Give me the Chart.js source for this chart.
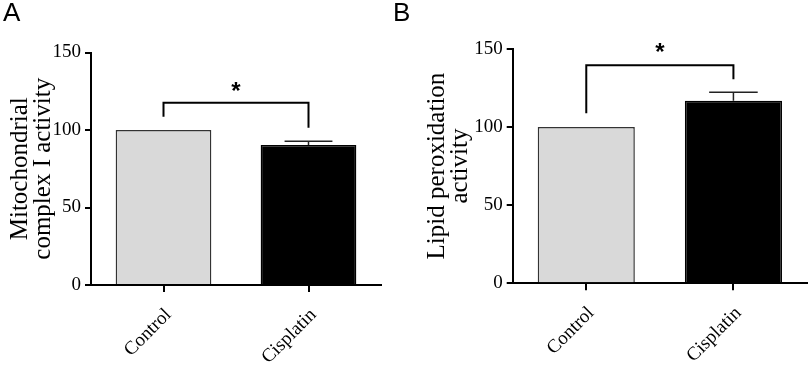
<!DOCTYPE html>
<html><head><meta charset="utf-8">
<script src="https://cdn.jsdelivr.net/npm/chart.js@4/dist/chart.umd.min.js"></script>
<style>
html,body{margin:0;padding:0;background:#fff;width:809px;height:367px;overflow:hidden;}
.box{position:absolute;top:0;height:367px;}
#wa{left:0;width:400px;}
#wb{left:390px;width:419px;}
canvas{display:block;}
</style></head><body>
<div class="box" id="wa"><canvas id="ca" width="400" height="367"></canvas></div>
<div class="box" id="wb"><canvas id="cb" width="419" height="367"></canvas></div>
<script>
const categories = ['Control', 'Cisplatin'];
const yTicks = [0, 50, 100, 150];
const complexIValues = [100, 90.3];
const complexIErrors = [0, 2.4];
const lipidValues = [100, 116.8];
const lipidErrors = [0, 5.4];
// significance bracket: [bar level, left leg end, right leg end, star level]
const complexIBracket = [117.6, 108.6, 101.5, 127.4];
const lipidBracket = [139.5, 108.8, 130.5, 150.5];
const panelLetters = ['A', 'B'];
const complexITitle = ['Mitochondrial', 'complex I activity'];
const lipidTitle = ['Lipid peroxidation', 'activity'];

const serif = "'Liberation Serif', 'Times New Roman', serif";

const annot = {
  id: 'annot',
  afterDatasetsDraw(chart, args, o) {
    const ctx = chart.ctx, x = chart.scales.x, y = chart.scales.y;
    const meta = chart.getDatasetMeta(0);
    ctx.save();
    ctx.strokeStyle = '#222';
    ctx.lineWidth = 1.5;
    o.values.forEach((v, i) => {
      const e = o.errors[i];
      if (!e) return;
      const bar = meta.data[i];
      const cx = bar.x, hw = bar.width / 4;
      const y0 = y.getPixelForValue(v), y1 = y.getPixelForValue(v + e);
      ctx.beginPath();
      ctx.moveTo(cx, y0); ctx.lineTo(cx, y1);
      ctx.moveTo(cx - hw, y1); ctx.lineTo(cx + hw, y1);
      ctx.stroke();
    });
    const b = o.bracket;
    const xa = x.getPixelForValue(0), xb = x.getPixelForValue(1);
    const yl = y.getPixelForValue(b[0]);
    ctx.strokeStyle = '#000';
    ctx.lineWidth = 2;
    ctx.beginPath();
    ctx.moveTo(xa, y.getPixelForValue(b[1]));
    ctx.lineTo(xa, yl);
    ctx.lineTo(xb, yl);
    ctx.lineTo(xb, y.getPixelForValue(b[2]));
    ctx.stroke();
    ctx.fillStyle = '#000';
    ctx.font = "bold 24px 'Liberation Sans', Arial, sans-serif";
    ctx.textAlign = 'center';
    ctx.textBaseline = 'middle';
    ctx.fillText('*', (xa + xb) / 2, y.getPixelForValue(b[3]) + 5);
    ctx.restore();
  }
};

function makeChart(id, cfg) {
  new Chart(document.getElementById(id), {
    type: 'bar',
    data: {
      labels: categories,
      datasets: [{
        data: cfg.values,
        backgroundColor: ['#d9d9d9', '#000000'],
        borderColor: ['#333333', '#000000'],
        borderWidth: 1.5,
        barPercentage: 0.66,
        categoryPercentage: 1.0
      }]
    },
    options: {
      responsive: false,
      animation: false,
      events: [],
      layout: { padding: cfg.padding },
      plugins: {
        legend: { display: false },
        tooltip: { enabled: false },
        title: {
          display: true,
          text: cfg.letter,
          align: 'start',
          color: '#000',
          font: { family: "'Liberation Sans', Arial, sans-serif", size: 26, weight: 'normal', lineHeight: 1 },
          padding: { top: 1, bottom: cfg.titleBottom }
        },
        annot: { values: cfg.values, errors: cfg.errors, bracket: cfg.bracket }
      },
      scales: {
        x: {
          grid: { offset: false, drawOnChartArea: false, drawTicks: true, tickLength: 7, color: '#000', lineWidth: 2 },
          border: { display: true, color: '#000', width: 2 },
          ticks: { color: '#000', font: { family: serif, size: 19 }, maxRotation: 45, minRotation: 45, padding: 12, labelOffset: 5 },
          afterFit: s => { s.height = cfg.xHeight; }
        },
        y: {
          min: 0, max: 150,
          afterBuildTicks: s => { s.ticks = yTicks.map(v => ({ value: v })); },
          grid: { drawOnChartArea: false, drawTicks: true, tickLength: 6, color: '#000', lineWidth: 2 },
          border: { display: true, color: '#000', width: 2 },
          ticks: { color: '#000', font: { family: serif, size: 19 }, padding: 4 },
          title: {
            display: true,
            text: cfg.yTitle,
            color: '#000',
            font: { family: serif, size: 25, lineHeight: 0.92 },
            padding: { top: cfg.yTitleTop, bottom: 0 }
          },
          afterFit: s => { s.width = cfg.yWidth; }
        }
      }
    },
    plugins: [annot]
  });
}

makeChart('ca', {
  values: complexIValues, errors: complexIErrors, bracket: complexIBracket,
  letter: panelLetters[0], yTitle: complexITitle,
  padding: { left: 3, right: 19, top: 0, bottom: 0 },
  titleBottom: 25.5, xHeight: 82, yWidth: 88, yTitleTop: 6
});
makeChart('cb', {
  values: lipidValues, errors: lipidErrors, bracket: lipidBracket,
  letter: panelLetters[1], yTitle: lipidTitle,
  padding: { left: 3, right: 2, top: 0, bottom: 0 },
  titleBottom: 21.8, xHeight: 83.7, yWidth: 119.7, yTitleTop: 32.5
});
</script>
</body></html>
